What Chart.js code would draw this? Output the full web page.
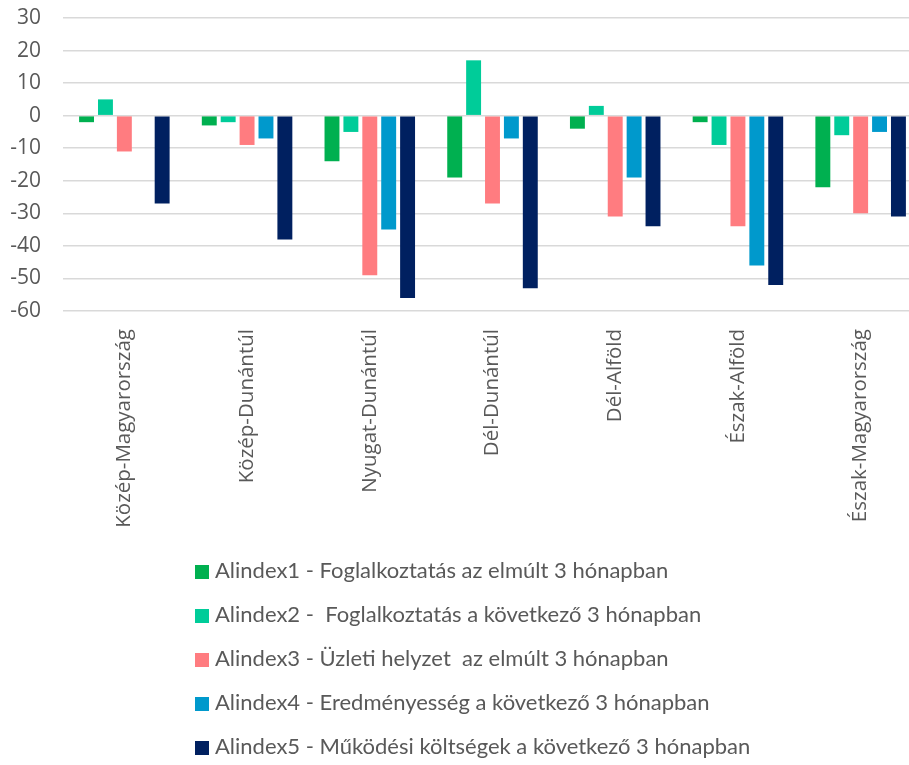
<!DOCTYPE html>
<html>
<head>
<meta charset="utf-8">
<script src="https://cdn.jsdelivr.net/npm/chart.js@4"></script>
<style>
  html, body { margin: 0; padding: 0; background: #fff; overflow: hidden; }
  #wrap { position: relative; width: 925px; height: 765px; }
  #legend { position: absolute; left: 195px; top: 548px; font-family: Lato, sans-serif; font-size: 22px; color: #595959; }
  #legend div { height: 44px; line-height: 44px; white-space: pre; }
  #legend span { display: inline-block; width: 14px; height: 14px; margin-right: 6px; vertical-align: -1px; }
</style>
</head>
<body>
<div id="wrap">
  <canvas id="myChart" width="925" height="765"></canvas>
  <div id="legend"></div>
</div>
<script>
const regions = ["Közép-Magyarország","Közép-Dunántúl","Nyugat-Dunántúl","Dél-Dunántúl","Dél-Alföld","Észak-Alföld","Észak-Magyarország"];
const alindex1 = [-2,-3,-14,-19,-4,-2,-22];
const alindex2 = [5,-2,-5,17,3,-9,-6];
const alindex3 = [-11,-9,-49,-27,-31,-34,-30];
const alindex4 = [0,-7,-35,-7,-19,-46,-5];
const alindex5 = [-27,-38,-56,-53,-34,-52,-31];
const seriesNames = [
  "Alindex1 - Foglalkoztatás az elmúlt 3 hónapban",
  "Alindex2 -  Foglalkoztatás a következő 3 hónapban",
  "Alindex3 - Üzleti helyzet  az elmúlt 3 hónapban",
  "Alindex4 - Eredményesség a következő 3 hónapban",
  "Alindex5 - Működési költségek a következő 3 hónapban"
];
const colors = ["#00B050","#00CC99","#FF7C80","#0099CC","#002060"];
const yMin = -60, yMax = 30, yStep = 10;

const allSeries = [alindex1, alindex2, alindex3, alindex4, alindex5];

const chart = new Chart("myChart", {
  type: "bar",
  data: {
    labels: regions,
    datasets: allSeries.map((d, i) => ({
      label: seriesNames[i],
      data: d,
      backgroundColor: colors[i],
      categoryPercentage: 0.77,
      barPercentage: 0.79
    }))
  },
  options: {
    responsive: false,
    animation: false,
    layout: {padding: {top: 0, bottom: 224, right: 3}},
    plugins: {legend: {display: false}, tooltip: {enabled: false}},
    scales: {
      x: {
        grid: {display: false},
        border: {display: false},
        ticks: {
          minRotation: 90, maxRotation: 90, padding: 10,
          color: "#595959",
          font: {family: "'Open Sans'", size: 20.5}
        },
        afterFit: s => { s.height = 230; }
      },
      y: {
        min: yMin, max: yMax,
        grid: {color: "#d9d9d9", lineWidth: 1.5, drawTicks: false},
        border: {display: false},
        ticks: {
          stepSize: yStep, padding: 22,
          color: "#595959",
          font: {family: "'Open Sans'", size: 21}
        },
        // tick padding would otherwise push the top of the plot down
        afterFit: s => { s.width = 63; s.paddingTop = 18; s.paddingBottom = 12; }
      }
    }
  }
});

const legendEl = document.getElementById("legend");
chart.data.datasets.forEach(ds => {
  const row = document.createElement("div");
  const box = document.createElement("span");
  box.style.background = ds.backgroundColor;
  row.appendChild(box);
  row.appendChild(document.createTextNode(ds.label));
  legendEl.appendChild(row);
});
</script>
</body>
</html>
